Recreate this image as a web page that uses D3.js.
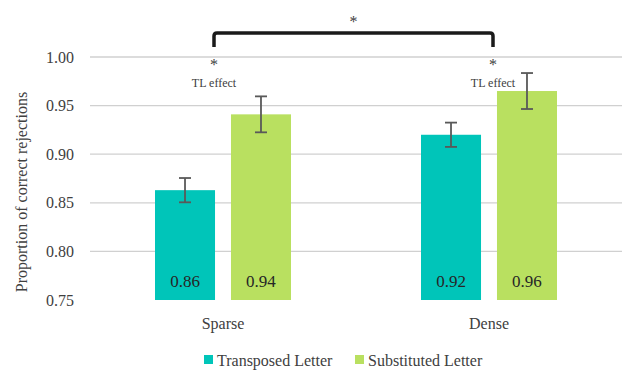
<!DOCTYPE html>
<html><head><meta charset="utf-8">
<script src="https://cdn.jsdelivr.net/npm/d3@7"></script>
</head><body style="margin:0">
<script>
const categories = ["Sparse", "Dense"];
const seriesNames = ["Transposed Letter", "Substituted Letter"];
const transposed = [0.863, 0.920];
const substituted = [0.941, 0.965];
const transposedErr = [0.0125, 0.0125];
const substitutedErr = [0.0185, 0.0185];
const valueLabels = [["0.86", "0.94"], ["0.92", "0.96"]];
const yTicks = [0.75, 0.80, 0.85, 0.90, 0.95, 1.00];
const colors = ["#00C5B9", "#B9E060"];

const FF = "'Liberation Serif', monospace";
const W = 630, H = 374;
const m = {left: 90, right: 8, top: 57, bottom: 74};
const svg = d3.select("body").append("svg").attr("width", W).attr("height", H);

const x = d3.scaleBand().domain(categories).range([m.left, W - m.right]);
const y = d3.scaleLinear().domain([0.75, 1.00]).range([300, 57]);
const groupW = 136;
const x1 = d3.scaleBand().domain(seriesNames).range([0, groupW]).paddingInner(0.21);

// gridlines
svg.append("g").selectAll("line").data(yTicks.filter(t => t > 0.75)).join("line")
  .attr("x1", m.left).attr("x2", W - m.right)
  .attr("y1", d => y(d)).attr("y2", d => y(d))
  .attr("stroke", "#d0d0d0").attr("stroke-width", 1.3);

// y axis
const yAxis = d3.axisLeft(y).tickValues(yTicks).tickFormat(d3.format(".2f")).tickSize(0).tickPadding(10);
const ya = svg.append("g").attr("transform", `translate(${m.left - 6},0)`).call(yAxis);
ya.attr("font-family", null).attr("font-size", null);
ya.select(".domain").remove();
ya.selectAll("text").attr("fill", "#404040").attr("font-size", 16).style("font-family", FF);

// y title
svg.append("text").attr("transform", "translate(27,192) rotate(-90)")
  .attr("text-anchor", "middle").attr("font-size", 16).attr("fill", "#404040")
  .style("font-family", FF)
  .text("Proportion of correct rejections");

// bars
const data = categories.map((c, i) => ({
  cat: c,
  vals: [
    {s: seriesNames[0], v: transposed[i], e: transposedErr[i], lab: valueLabels[i][0], col: colors[0]},
    {s: seriesNames[1], v: substituted[i], e: substitutedErr[i], lab: valueLabels[i][1], col: colors[1]}
  ]
}));
const groups = svg.append("g").selectAll("g").data(data).join("g")
  .attr("transform", d => `translate(${x(d.cat) + x.bandwidth() / 2 - groupW / 2},0)`);
groups.selectAll("rect").data(d => d.vals).join("rect")
  .attr("x", d => x1(d.s)).attr("width", x1.bandwidth())
  .attr("y", d => y(d.v)).attr("height", d => y(0.75) - y(d.v))
  .attr("fill", d => d.col);
groups.selectAll("text.val").data(d => d.vals).join("text").attr("class", "val")
  .attr("x", d => x1(d.s) + x1.bandwidth() / 2).attr("y", 287)
  .attr("text-anchor", "middle").attr("font-size", 17).attr("fill", "#262626")
  .style("font-family", FF)
  .text(d => d.lab);
// error bars
const eb = groups.selectAll("g.err").data(d => d.vals).join("g").attr("class", "err")
  .attr("stroke", "#595959").attr("stroke-width", 1.8);
eb.append("line").attr("x1", d => x1(d.s) + x1.bandwidth() / 2).attr("x2", d => x1(d.s) + x1.bandwidth() / 2)
  .attr("y1", d => y(d.v + d.e)).attr("y2", d => y(d.v - d.e));
eb.append("line").attr("x1", d => x1(d.s) + x1.bandwidth() / 2 - 6).attr("x2", d => x1(d.s) + x1.bandwidth() / 2 + 6)
  .attr("y1", d => y(d.v + d.e)).attr("y2", d => y(d.v + d.e));
eb.append("line").attr("x1", d => x1(d.s) + x1.bandwidth() / 2 - 6).attr("x2", d => x1(d.s) + x1.bandwidth() / 2 + 6)
  .attr("y1", d => y(d.v - d.e)).attr("y2", d => y(d.v - d.e));

// category labels
svg.append("g").selectAll("text").data(categories).join("text")
  .attr("x", d => x(d) + x.bandwidth() / 2).attr("y", 329)
  .attr("text-anchor", "middle").attr("font-size", 16).attr("fill", "#404040")
  .style("font-family", FF)
  .text(d => d);

// annotations
const annOffset = [-9, 4];
const annX = categories.map((c, i) => x(c) + x.bandwidth() / 2 + annOffset[i]);
svg.append("path")
  .attr("d", `M${annX[0]},47 L${annX[0]},36 Q${annX[0]},33 ${annX[0] + 3},33 L${annX[1] - 3},33 Q${annX[1]},33 ${annX[1]},36 L${annX[1]},47`)
  .attr("fill", "none").attr("stroke", "#1a1a1a").attr("stroke-width", 3.5);
svg.append("text").attr("x", (annX[0] + annX[1]) / 2).attr("y", 27).attr("text-anchor", "middle")
  .attr("font-size", 16).attr("fill", "#404040").style("font-family", FF).text("*");
annX.forEach(ax => {
  svg.append("text").attr("x", ax).attr("y", 70).attr("text-anchor", "middle")
    .attr("font-size", 16).attr("fill", "#404040").style("font-family", FF).text("*");
  svg.append("text").attr("x", ax).attr("y", 87).attr("text-anchor", "middle")
    .attr("font-size", 12).attr("fill", "#404040").style("font-family", FF).text("TL effect");
});

// legend
const leg = svg.append("g");
const legItems = [{n: seriesNames[0], c: colors[0], x: 204}, {n: seriesNames[1], c: colors[1], x: 355}];
legItems.forEach(it => {
  leg.append("rect").attr("x", it.x).attr("y", 355).attr("width", 9).attr("height", 9).attr("fill", it.c);
  leg.append("text").attr("x", it.x + 13).attr("y", 366).attr("font-size", 16).attr("fill", "#404040")
    .style("font-family", FF).text(it.n);
});
</script>
</body></html>
